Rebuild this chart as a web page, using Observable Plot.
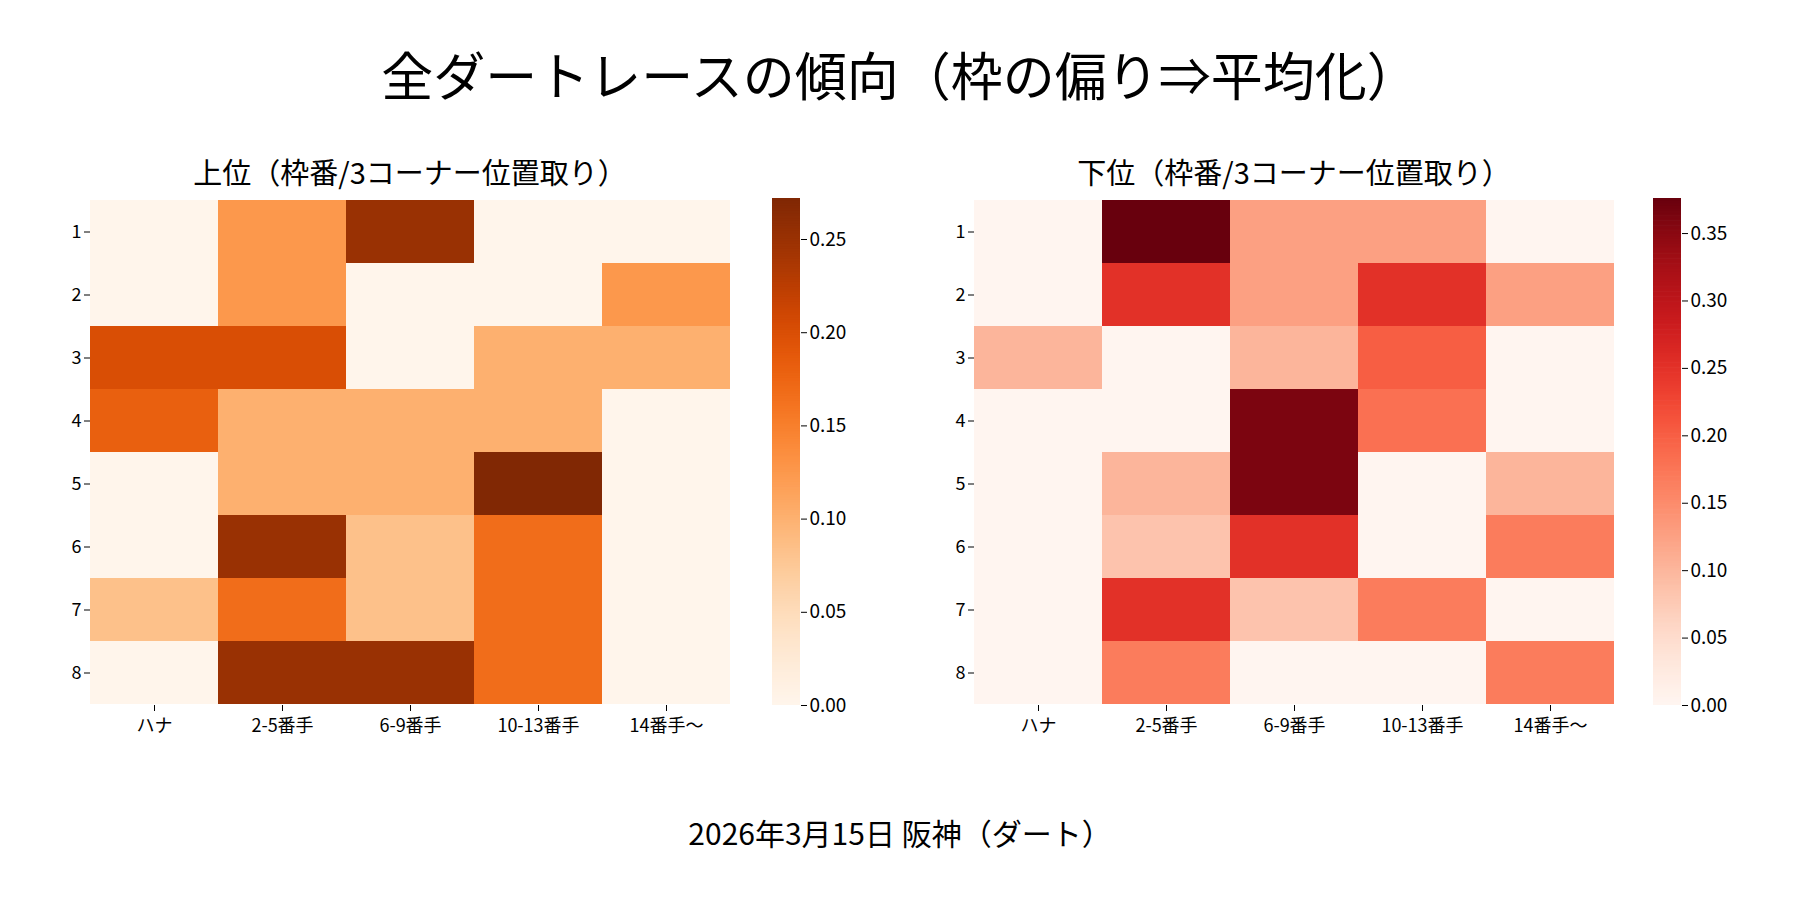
<!DOCTYPE html>
<html><head><meta charset="utf-8">
<script src="https://cdn.jsdelivr.net/npm/d3@7"></script>
<script src="https://cdn.jsdelivr.net/npm/@observablehq/plot@0.6"></script>
<style>
body{margin:0;background:#fff;font-family:"Noto Sans CJK JP",sans-serif;}
#root{position:relative;width:1800px;height:900px;}
.abs{position:absolute;}
.t{position:absolute;width:100%;text-align:center;color:#000;}
</style></head><body><div id="root"></div>
<script>
const rows = ["1","2","3","4","5","6","7","8"];
const cols = ["ハナ","2-5番手","6-9番手","10-13番手","14番手〜"];
const topValues = [
 [0,0.125,0.25,0,0],
 [0,0.125,0,0,0.125],
 [0.2,0.2,0,0.1,0.1],
 [0.18,0.1,0.1,0.1,0],
 [0,0.1,0.1,0.27,0],
 [0,0.25,0.083,0.167,0],
 [0.083,0.167,0.083,0.167,0],
 [0,0.25,0.25,0.167,0]
];
const bottomValues = [
 [0,0.375,0.125,0.125,0],
 [0,0.25,0.125,0.25,0.125],
 [0.1,0,0.1,0.2,0],
 [0,0,0.36,0.18,0],
 [0,0.1,0.36,0,0.1],
 [0,0.083,0.25,0,0.167],
 [0,0.25,0.083,0.167,0],
 [0,0.167,0,0,0.167]
];
const topTicks = [0,0.05,0.10,0.15,0.20,0.25];
const bottomTicks = [0,0.05,0.10,0.15,0.20,0.25,0.30,0.35];
const font = '"Noto Sans CJK JP",sans-serif';
const root = document.getElementById("root");
function text(s,top,size,left,width){const d=document.createElement("div");d.className="t";d.textContent=s;d.style.top=top+"px";d.style.fontSize=size+"px";if(left!=null){d.style.left=left+"px";d.style.width=width+"px";}root.appendChild(d);}
function place(el,x,y){el.classList.add("abs");el.style.left=x+"px";el.style.top=y+"px";root.appendChild(el);}
function panel(values,scheme,max,ticks,x0,cbx,title){
  const data=[];values.forEach((r,i)=>r.forEach((v,j)=>data.push({row:rows[i],col:cols[j],v})));
  const hm=Plot.plot({width:640+60,height:507+50,marginLeft:60,marginRight:0,marginTop:0,marginBottom:50,
    style:{fontFamily:font,fontSize:"18px",background:"transparent"},
    x:{domain:cols,label:null,padding:0,tickSize:6,tickPadding:8},
    y:{domain:rows,label:null,padding:0,tickSize:6},
    color:{type:"linear",scheme,domain:[0,max]},
    marks:[Plot.cell(data,{x:"col",y:"row",fill:"v"})]});
  place(hm,x0-60,198);
  const steps=d3.range(0,200).map(i=>i*max/200);
  const cb=Plot.plot({width:28+80,height:507+30,marginLeft:0,marginRight:80,marginTop:15,marginBottom:15,
    style:{fontFamily:font,fontSize:"19px",background:"transparent"},
    x:{axis:null,domain:[0,1]},
    y:{domain:[0,max],axis:"right",ticks:ticks,tickFormat:d3.format(".2f"),label:null,tickSize:6},
    color:{type:"linear",scheme,domain:[0,max]},
    marks:[Plot.rect(steps,{x1:0,x2:1,y1:d=>d,y2:d=>Math.min(max,d+max/200+0.0005),fill:d=>d})]});
  place(cb,cbx,183);
  text(title,150,29,x0-40,720);
}
text("全ダートレースの傾向（枠の偏り⇒平均化）",36,52);
panel(topValues,"oranges",0.272,topTicks,90,772,"上位（枠番/3コーナー位置取り）");
panel(bottomValues,"reds",0.376,bottomTicks,974,1653,"下位（枠番/3コーナー位置取り）");
text("2026年3月15日 阪神（ダート）",810,30);
</script></body></html>
